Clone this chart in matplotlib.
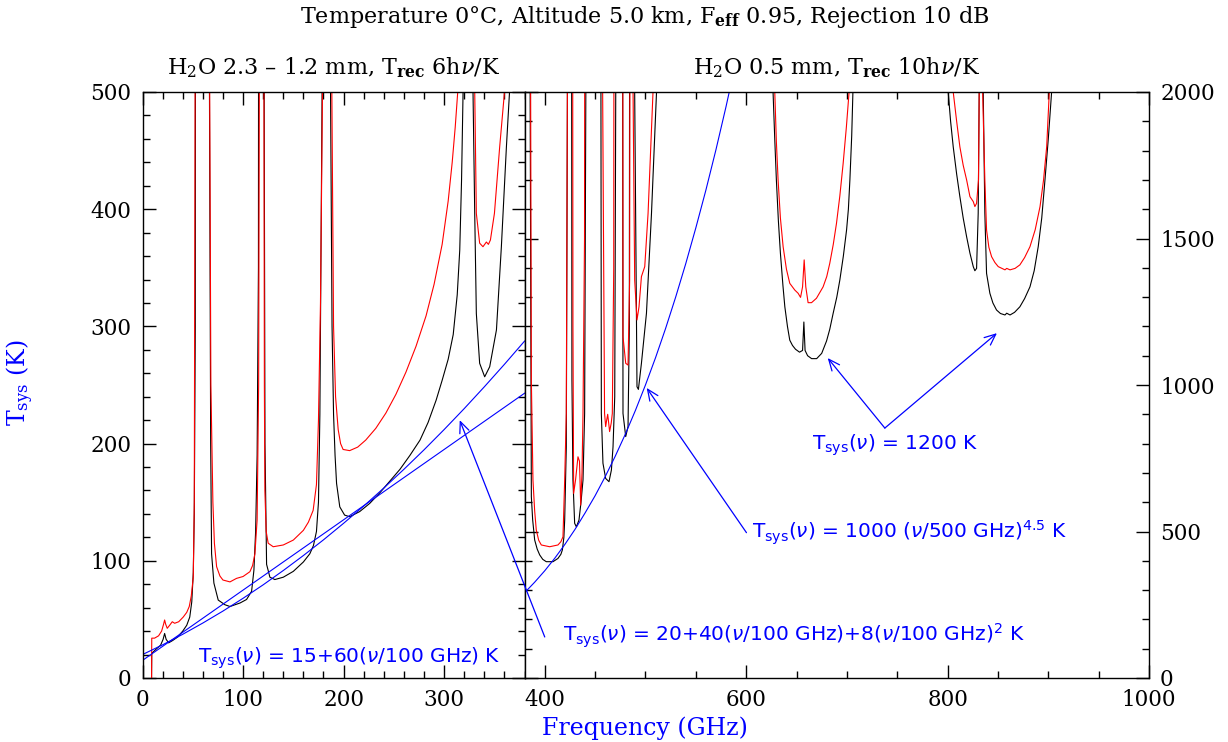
import matplotlib
matplotlib.use('Agg')
import matplotlib.pyplot as plt
from matplotlib.ticker import MultipleLocator

# ---- left panel (0-380 GHz), H2O 2.3 / 1.2 mm ----
black_left_freq = [9, 9.2, 14, 18, 20.5, 22, 23.5, 26, 30, 35, 40, 44, 47, 49, 50.5, 51.5, 52.5, 53.5,
                   66, 66.6, 67.8, 68.7, 71, 75.3, 82, 87, 97, 103.5, 108.5, 110.8, 112.5, 114, 115.3, 116.2,
                   120.5, 121, 121.8, 123.4, 126.7, 131.6, 140, 150, 160, 166.4, 170, 173, 175, 176.4, 178.6, 179.5,
                   186.5, 187, 188.5, 190, 191.5, 193, 196.2, 201, 206, 216, 226, 236, 246, 256, 266, 276, 284, 292,
                   298, 304, 309, 313, 315.5, 317.3, 318.8, 319.5,
                   328, 328.7, 330.4, 332, 335.3, 340.3, 345.3, 352, 356.9, 361.9, 365, 366, 380]
black_left_tsys = [0, 21, 25, 28, 33, 38, 33, 30, 32, 35, 40, 45, 52, 65, 90, 140, 300, 2000,
                   2000, 500, 200, 106, 81, 66.5, 62.5, 61, 64, 67, 74, 92, 125, 190, 350, 2000,
                   2000, 500, 200, 97, 86, 84, 86, 91, 99, 106, 113, 125, 150, 225, 500, 2000,
                   2000, 500, 300, 225, 190, 166, 146, 139, 137.6, 142, 149, 158, 168, 178, 190, 203, 218, 237,
                   254, 272, 293, 327, 365, 425, 500, 2000,
                   2000, 500, 396.5, 311, 268.5, 257, 265.6, 297, 368, 453, 500, 2000, 2000]

red_left_freq = [9, 9.2, 12, 16, 19, 21, 22, 23, 24.6, 27, 29.6, 32, 36, 40.5, 44, 46.5, 48.5, 50.5, 51.5, 52.3, 53,
                 66, 66.8, 68, 70, 71.5, 73.7, 77, 80, 87, 93.5, 100, 106.8, 109.5, 111.8, 114, 115.5, 116.2, 116.8,
                 120.2, 120.8, 121.2, 121.7, 123, 125, 130, 140, 150, 160, 165, 169.7, 173, 175, 177, 179, 180,
                 187.5, 188.3, 190, 192, 194.6, 197, 199.5, 206, 214, 222, 232, 242, 252, 262, 272, 282, 290,
                 298, 304, 308, 311, 313.5, 314.5,
                 329.7, 330.4, 332, 335.3, 338.6, 342, 344, 346, 350, 355.2, 360, 361, 380]
red_left_tsys = [0, 34, 34, 36, 40, 46, 49.5, 46, 42.4, 45, 48, 46.7, 48, 52, 56, 61, 70, 86, 150, 500, 2000,
                 2000, 500, 250, 150, 115, 95, 87, 83.6, 82, 85, 86.6, 90.7, 96, 106, 135, 250, 500, 2000,
                 2000, 500, 250, 160, 125, 115, 112, 113.5, 117.7, 126, 133, 143, 165, 220, 320, 500, 2000,
                 2000, 500, 300, 240, 212, 200, 195, 194, 197, 203, 213, 226, 242, 261, 283, 309, 336,
                 370, 407, 440, 470, 500, 2000,
                 2000, 500, 396.5, 371, 368, 372, 370, 373.7, 396.5, 453, 500, 2000, 2000]

# ---- right panel (380-1000 GHz), H2O 0.5 mm ----
black_right_freq = [380, 384.5, 385.5, 386.7, 388, 390, 392.5, 395, 398, 401.5, 408.2, 413.1, 416, 417.5, 419,
                    419.8, 421.4, 422.5, 423.5,
                    426, 427, 428, 429.7, 431.4, 434, 436, 438, 439.6, 440.8, 441.5,
                    455, 455.8, 456.2, 457.8, 460.5, 463.8, 466.2, 467.8, 469.5, 470.5, 471,
                    476.5, 477.7, 480.4, 482.7, 484, 485,
                    488.5, 489.3, 491.6, 493, 496, 501, 506, 511, 512,
                    626, 626.7, 628.5, 630, 632, 634, 636.5, 638.4, 641, 643.3, 646, 649, 653, 656, 657.3, 658.5,
                    661, 665, 670, 675, 679.8, 683, 686.4, 690, 693, 696.5, 699.7, 701.5, 703, 704.8, 706, 707,
                    800, 800.6, 803, 805.6, 809, 812.2, 815.5, 818.9, 822.2, 825.5, 827.1, 828.8, 830.4, 831.4, 832,
                    835, 835.4, 837, 838.7, 842, 845, 848.6, 852.5, 857, 858.7, 862, 866.5, 871.8, 876.5, 881.8,
                    886, 890, 893.5, 896.7, 900, 903.3, 904, 1000]
black_right_tsys = [5000, 5000, 2000, 619, 540, 471, 440, 420, 405, 397, 397, 408, 422, 437, 480,
                    539, 789, 2000, 5000,
                    5000, 1017, 676, 528, 516, 539, 600, 676, 903, 2000, 5000,
                    5000, 2000, 903, 733, 681, 670, 710, 789, 960, 2000, 5000,
                    5000, 903, 824, 858, 1200, 5000,
                    5000, 2000, 994, 985, 1074, 1245, 1586, 2000, 5000,
                    5000, 2000, 1830, 1700, 1560, 1450, 1340, 1267, 1200, 1153, 1135, 1122, 1112, 1118, 1215, 1118,
                    1100, 1090, 1090, 1108, 1150, 1190, 1245, 1300, 1358, 1440, 1529, 1600, 1700, 1850, 2000, 5000,
                    5000, 2000, 1900, 1813, 1720, 1643, 1570, 1506, 1450, 1404, 1390, 1398, 1586, 2000, 5000,
                    5000, 2000, 1586, 1381, 1313, 1280, 1256, 1244, 1239, 1245, 1239, 1248, 1267, 1295, 1335,
                    1390, 1472, 1570, 1700, 1840, 2000, 5000, 5000]

red_right_freq = [380, 385, 386, 386.7, 388.3, 390, 391.6, 394, 396.6, 404.9, 413.1, 416, 418.1, 419.8, 421.4,
                  422.5, 423,
                  427, 428, 428.7, 430.6, 433, 434.5, 435.7, 437, 438, 439.5, 440.5,
                  456, 457.5, 459.4, 460.5, 461.5, 462.5, 463.5, 464.4, 466, 467.1, 468.5, 469.5,
                  477, 477.7, 480.4, 482.7, 484.3, 485.5,
                  487, 487.7, 489.3, 491.6, 493.6, 496, 499.3, 502.6, 507.5, 508.5,
                  627.5, 628.4, 630, 631.7, 634, 636.7, 640, 643.3, 648.3, 651.6, 654, 656, 657.6, 659.2, 661.5,
                  664.9, 669.8, 676.4, 680, 683, 686.5, 689.7, 693, 696.3, 699.5, 702.2, 703,
                  805, 805.6, 809, 812.2, 815.5, 818.9, 822.2, 825.5, 827.1, 828.8, 830.7, 831.4, 832,
                  834.3, 834.8, 837, 838.7, 841, 843.7, 847, 850.3, 857, 858.7, 862, 867, 871.8, 876.5, 881.8,
                  887, 891.8, 895.3, 898.4, 901, 902, 1000]
red_right_tsys = [5000, 5000, 2000, 1017, 676, 570, 505, 470, 454, 448, 454, 465, 482, 676, 903,
                  2000, 5000,
                  5000, 1200, 630, 676, 755, 740, 590, 700, 904, 1500, 5000,
                  5000, 2000, 903, 858, 880, 900, 870, 841, 870, 903, 1400, 5000,
                  5000, 1165, 1074, 1068, 1358, 5000,
                  5000, 2000, 1358, 1222, 1267, 1370, 1404, 1586, 2000, 5000,
                  5000, 2000, 1830, 1700, 1570, 1472, 1395, 1347, 1324, 1313, 1299, 1335, 1427, 1335, 1281,
                  1281, 1296, 1335, 1370, 1415, 1480, 1552, 1645, 1756, 1880, 2000, 5000,
                  5000, 2000, 1900, 1813, 1750, 1700, 1643, 1626, 1609, 1620, 1700, 2000, 5000,
                  5000, 2000, 1700, 1529, 1470, 1438, 1418, 1404, 1393, 1398, 1393, 1398, 1410, 1435, 1472,
                  1530, 1609, 1700, 1813, 2000, 5000, 5000]

# ---- blue reference curves ----
linear_freq = [0, 380]
linear_tsys = [15, 243]
quad_freq = [0, 20, 40, 60, 80, 100, 120, 140, 160, 180, 200, 220, 240, 260, 280, 300, 320, 340, 360, 380]
quad_tsys = [20, 28.3, 37.3, 46.9, 57.1, 68, 79.5, 91.7, 104.5, 117.9, 132, 146.7, 162.1, 178.1, 194.7,
             212, 229.9, 248.5, 267.7, 287.5]
power_freq = [380, 390, 400, 410, 420, 430, 440, 450, 460, 470, 480, 490, 500, 510, 520, 530, 540, 550,
              560, 570, 580, 590]
power_tsys = [291, 327, 366, 409, 456, 507, 563, 622, 687, 757, 832, 913, 1000, 1093, 1193, 1300, 1414,
              1536, 1665, 1803, 1950, 2106]

W, H = 1228, 742
BLUE = '#0000ff'


def px_box(x0, x1, y_top, y_bot):
    return [x0 / W, 1 - y_bot / H, (x1 - x0) / W, (y_bot - y_top) / H]


def style_axes(ax, xmaj, xmin, ymaj, ymin):
    ax.xaxis.set_major_locator(MultipleLocator(xmaj))
    ax.xaxis.set_minor_locator(MultipleLocator(xmin))
    ax.yaxis.set_major_locator(MultipleLocator(ymaj))
    ax.yaxis.set_minor_locator(MultipleLocator(ymin))
    ax.tick_params(which='both', direction='in', top=True, bottom=True, left=True, right=True,
                   width=1.0, labelsize=15.5, pad=8)
    ax.tick_params(which='major', length=9.5)
    ax.tick_params(which='minor', length=4.7)
    for s in ax.spines.values():
        s.set_linewidth(1.0)


def main():
    plt.rcParams['font.family'] = 'DejaVu Serif'
    plt.rcParams['mathtext.fontset'] = 'dejavuserif'

    fig = plt.figure(figsize=(W / 100, H / 100), dpi=100)
    ax1 = fig.add_axes(px_box(142.5, 524.6, 92, 678))
    ax2 = fig.add_axes(px_box(524.6, 1149, 92, 678))

    lw = 0.8
    ax1.plot(black_left_freq, black_left_tsys, color='black', lw=lw)
    ax1.plot(red_left_freq, red_left_tsys, color='red', lw=lw)
    ax1.plot(linear_freq, linear_tsys, color=BLUE, lw=lw)
    ax1.plot(quad_freq, quad_tsys, color=BLUE, lw=lw)
    ax1.set_xlim(0, 380)
    ax1.set_ylim(0, 500)
    style_axes(ax1, 100, 20, 100, 20)

    ax2.plot(black_right_freq, black_right_tsys, color='black', lw=lw)
    ax2.plot(red_right_freq, red_right_tsys, color='red', lw=lw)
    ax2.plot(power_freq, power_tsys, color=BLUE, lw=lw)
    ax2.set_xlim(380, 1000)
    ax2.set_ylim(0, 2000)
    style_axes(ax2, 200, 50, 500, 100)
    ax2.tick_params(labelleft=False, labelright=True)

    # titles
    fig.text(645 / W, 1 - 17 / H, r'Temperature 0°C, Altitude 5.0 km, F$_{\bf eff}$ 0.95, Rejection 10 dB',
             ha='center', va='center', fontsize=16)
    ax1.text(0.5, 1.03, r'H$_2$O 2.3 – 1.2 mm, T$_{\bf rec}$ 6h$\nu$/K', transform=ax1.transAxes,
             ha='center', va='baseline', fontsize=16)
    ax2.text(0.5, 1.03, r'H$_2$O 0.5 mm, T$_{\bf rec}$ 10h$\nu$/K', transform=ax2.transAxes,
             ha='center', va='baseline', fontsize=16)
    fig.text(645 / W, 1 - 728 / H, 'Frequency (GHz)', color=BLUE, ha='center', va='center', fontsize=17)
    fig.text(20 / W, 1 - 383 / H, r'T$_{\rm sys}$ (K)', color=BLUE, ha='center', va='center',
             rotation=90, fontsize=17)

    # annotations
    sans = dict(color=BLUE, fontsize=14.5, family='DejaVu Sans', math_fontfamily='dejavusans',
                ha='left', va='center')
    arrow = dict(arrowstyle='->,head_length=0.8,head_width=0.35', color=BLUE, lw=0.9, shrinkA=0, shrinkB=0)

    ax1.text(55, 17, r'T$_{\rm sys}$($\nu$) = 15+60($\nu$/100 GHz) K', **sans)
    ax2.text(418, 143, r'T$_{\rm sys}$($\nu$) = 20+40($\nu$/100 GHz)+8($\nu$/100 GHz)$^2$ K', **sans)
    ax2.text(605.6, 495, r'T$_{\rm sys}$($\nu$) = 1000 ($\nu$/500 GHz)$^{4.5}$ K', **sans)
    ax2.text(665.3, 795, r'T$_{\rm sys}$($\nu$) = 1200 K', **sans)

    ax2.annotate('', xy=(315.5, 220), xycoords=ax1.transData, xytext=(400, 140), textcoords='data',
                 arrowprops=arrow)
    ax2.annotate('', xy=(501.2, 990), xytext=(600.3, 496), arrowprops=arrow)
    ax2.annotate('', xy=(681, 1092), xytext=(737.7, 853), arrowprops=arrow)
    ax2.annotate('', xy=(849, 1177), xytext=(737.7, 853), arrowprops=arrow)

    fig.savefig('out.png', dpi=100)


if __name__ == '__main__':
    main()
